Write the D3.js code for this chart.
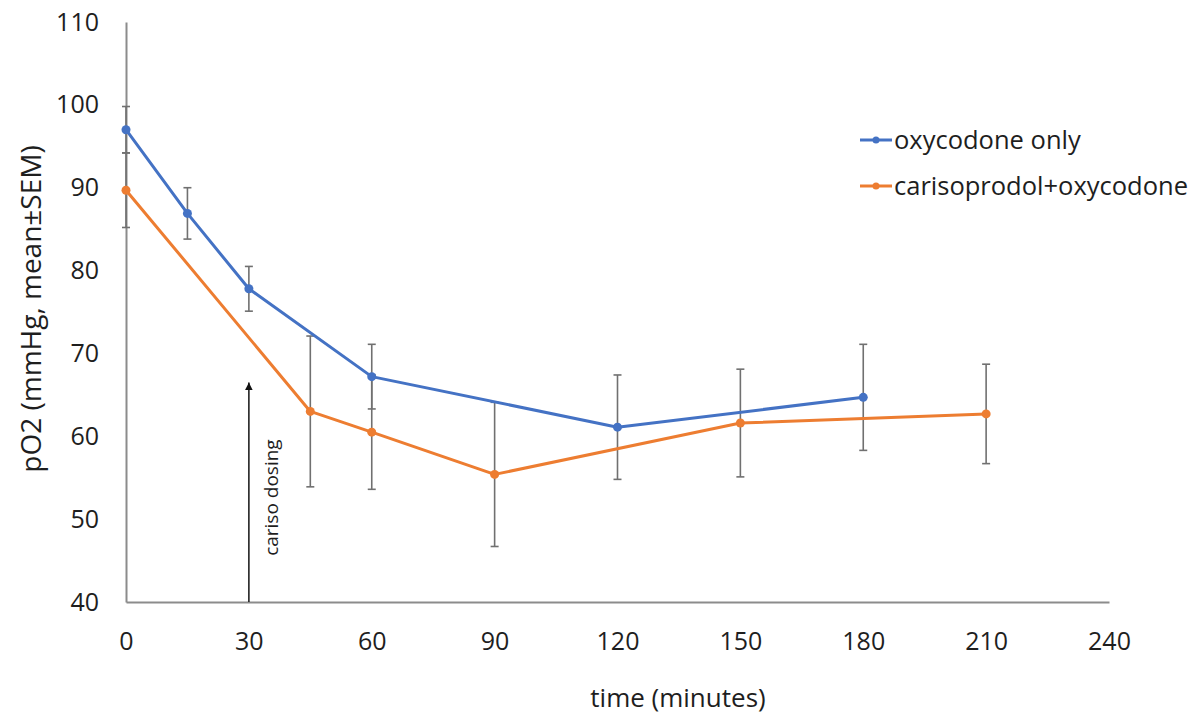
<!DOCTYPE html>
<html>
<head>
<meta charset="utf-8">
<script src="https://cdn.jsdelivr.net/npm/d3@7"></script>
<style>
  html, body { margin: 0; padding: 0; background: #fff; }
  svg { display: block; font-family: "Open Sans", sans-serif; }
</style>
</head>
<body>
<svg id="chart" width="1194" height="719"></svg>
<script>
// ---- data ----
const xTicks = [0, 30, 60, 90, 120, 150, 180, 210, 240];
const yTicks = [40, 50, 60, 70, 80, 90, 100, 110];

const oxyTime = [0, 15, 30, 60, 120, 180];
const oxyMean = [97.0, 86.9, 77.8, 67.2, 61.1, 64.7];
const oxySem  = [2.8, 3.1, 2.7, 3.9, 6.3, 6.4];

const carTime = [0, 45, 60, 90, 150, 210];
const carMean = [89.7, 63.0, 60.5, 55.4, 61.6, 62.7];
const carSem  = [4.5, 9.1, 6.9, 8.7, 6.5, 6.0];

const seriesNames = ["oxycodone only", "carisoprodol+oxycodone"];
const seriesColors = ["#4472C4", "#ED7D31"];

const dosingTime = 30;
const dosingLabel = "cariso dosing";
const dosingTop = 66.5;

// ---- layout ----
const svg = d3.select("#chart");
const x = d3.scaleLinear().domain([0, 240]).range([126, 1109]);
const y = d3.scaleLinear().domain([40, 110]).range([602, 22]);

const axisColor = "#8c8c8c";
const errColor = "#707070";
const textColor = "#1e1e1e";

// axes
const xAxis = svg.append("g").attr("transform", `translate(0,${y(40)})`)
  .call(d3.axisBottom(x).tickValues(xTicks).tickSize(0).tickPadding(30));
const yAxis = svg.append("g").attr("transform", `translate(${x(0)},0)`)
  .call(d3.axisLeft(y).tickValues(yTicks).tickSize(0).tickPadding(27));
[xAxis, yAxis].forEach(g => {
  g.select(".domain").attr("stroke", axisColor).attr("stroke-width", 2);
  g.selectAll("text").attr("font-family", "Open Sans, sans-serif")
    .attr("font-size", 25).attr("fill", textColor);
});

// axis titles
svg.append("text").attr("x", 678).attr("y", 707)
  .attr("text-anchor", "middle").attr("font-size", 26).attr("fill", textColor)
  .text("time (minutes)");
svg.append("text")
  .attr("transform", `translate(41,${309}) rotate(-90)`)
  .attr("text-anchor", "middle").attr("font-size", 28).attr("fill", textColor)
  .text("pO2 (mmHg, mean±SEM)");

// dosing arrow
svg.append("defs").append("marker")
  .attr("id", "arrowhead").attr("viewBox", "0 0 10 10")
  .attr("refX", 10).attr("refY", 5)
  .attr("markerWidth", 5).attr("markerHeight", 5)
  .attr("markerUnits", "strokeWidth")
  .attr("orient", "auto")
  .append("path").attr("d", "M0,0 L10,5 L0,10 z").attr("fill", "#111");
svg.append("line")
  .attr("x1", x(dosingTime)).attr("x2", x(dosingTime))
  .attr("y1", y(40)).attr("y2", y(dosingTop))
  .attr("stroke", "#222").attr("stroke-width", 1.6)
  .attr("marker-end", "url(#arrowhead)");
svg.append("text")
  .attr("transform", `translate(${x(dosingTime) + 29},${y(52.6)}) rotate(-90)`)
  .attr("text-anchor", "middle").attr("font-size", 19).attr("fill", textColor)
  .text(dosingLabel);

// series
const series = [
  { t: oxyTime, m: oxyMean, s: oxySem, color: seriesColors[0] },
  { t: carTime, m: carMean, s: carSem, color: seriesColors[1] }
];

// error bars
series.forEach(sr => {
  const g = svg.append("g");
  sr.t.forEach((t, i) => {
    const cx = x(t), top = y(sr.m[i] + sr.s[i]), bot = y(sr.m[i] - sr.s[i]);
    g.append("line").attr("x1", cx).attr("x2", cx).attr("y1", top).attr("y2", bot)
      .attr("stroke", errColor).attr("stroke-width", 1.6);
    [top, bot].forEach(yy => g.append("line")
      .attr("x1", cx - 4).attr("x2", cx + 4).attr("y1", yy).attr("y2", yy)
      .attr("stroke", errColor).attr("stroke-width", 1.6));
  });
});

// lines and markers
const line = d3.line().x(d => x(d[0])).y(d => y(d[1]));
series.forEach(sr => {
  const pts = sr.t.map((t, i) => [t, sr.m[i]]);
  svg.append("path").datum(pts).attr("d", line)
    .attr("fill", "none").attr("stroke", sr.color).attr("stroke-width", 3)
    .attr("stroke-linejoin", "round");
  svg.append("g").selectAll("circle").data(pts).join("circle")
    .attr("cx", d => x(d[0])).attr("cy", d => y(d[1])).attr("r", 4.5)
    .attr("fill", sr.color);
});

// legend
const legend = svg.append("g").attr("transform", "translate(860,140)");
seriesNames.forEach((name, i) => {
  const g = legend.append("g").attr("transform", `translate(0,${i * 46})`);
  g.append("line").attr("x1", 0).attr("x2", 32).attr("y1", 0).attr("y2", 0)
    .attr("stroke", seriesColors[i]).attr("stroke-width", 3);
  g.append("circle").attr("cx", 16).attr("cy", 0).attr("r", 3.5).attr("fill", seriesColors[i]);
  g.append("text").attr("x", 34).attr("y", 0).attr("dy", "0.35em")
    .attr("font-size", 25.5).attr("fill", textColor).text(name);
});
</script>
</body>
</html>
